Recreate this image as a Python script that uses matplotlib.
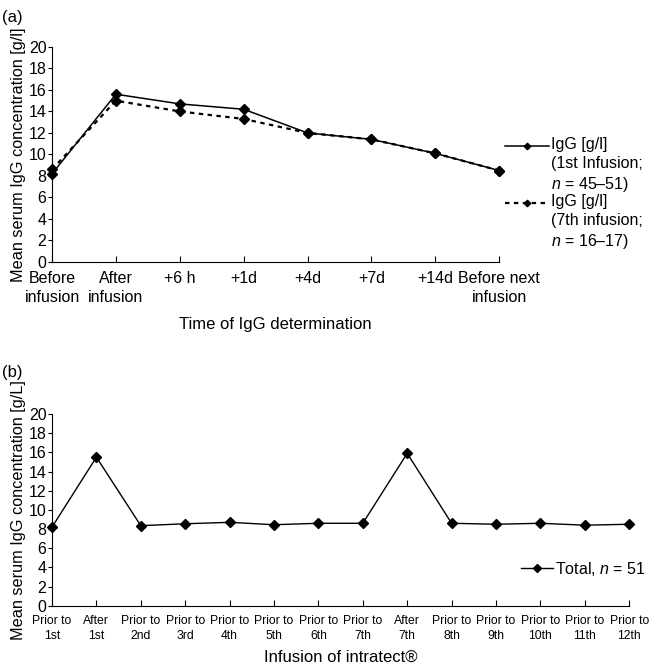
#!/usr/bin/env python

import matplotlib
matplotlib.use("Agg")
import matplotlib.pyplot as plt
from matplotlib.legend_handler import HandlerLine2D

plt.rcParams["font.family"] = ["Liberation Sans", "DejaVu Sans"]
plt.rcParams["mathtext.fontset"] = "custom"
plt.rcParams["mathtext.it"] = "Liberation Sans:italic"
plt.rcParams["mathtext.rm"] = "Liberation Sans"

# panel (a)
times = ["Before\ninfusion", "After\ninfusion", "+6 h", "+1d", "+4d", "+7d", "+14d",
         "Before next\ninfusion"]
igg_first = [8.2, 15.6, 14.7, 14.2, 12.0, 11.4, 10.1, 8.5]
igg_seventh = [8.6, 15.0, 14.0, 13.3, 12.0, 11.4, 10.1, 8.5]
label_first = "IgG [g/l]\n(1st Infusion;\n$n$ = 45\u201351)"
label_seventh = "IgG [g/l]\n(7th infusion;\n$n$ = 16\u201317)"

# panel (b)
infusions = ["Prior to\n1st", "After\n1st", "Prior to\n2nd", "Prior to\n3rd", "Prior to\n4th",
             "Prior to\n5th", "Prior to\n6th", "Prior to\n7th", "After\n7th", "Prior to\n8th",
             "Prior to\n9th", "Prior to\n10th", "Prior to\n11th", "Prior to\n12th"]
igg_total = [8.2, 15.5, 8.35, 8.55, 8.7, 8.45, 8.6, 8.6, 15.9, 8.6, 8.5, 8.6, 8.4, 8.5]
label_total = "Total, $n$ = 51"

yticks = list(range(0, 21, 2))


class TopLineHandler(HandlerLine2D):
    # put the handle next to the first line of a multi-line label
    def create_artists(self, legend, orig_handle, xdescent, ydescent, width, height,
                       fontsize, trans):
        artists = super().create_artists(legend, orig_handle, xdescent, ydescent, width,
                                         height, fontsize, trans)
        for a in artists:
            a.set_ydata(a.get_ydata() + fontsize * 1.25)
        return artists


def style_axes(ax):
    ax.spines["top"].set_visible(False)
    ax.spines["right"].set_visible(False)
    ax.set_ylim(0, 20)
    ax.set_yticks(yticks)
    ax.tick_params(axis="y", direction="out", length=3, labelsize=11.5, pad=1)
    ax.tick_params(axis="x", direction="in", length=4)


fig = plt.figure(figsize=(6.5, 6.7), dpi=100)

ax1 = fig.add_axes([0.08, 0.609, 0.688, 0.321])
x1 = list(range(len(times)))
ax1.plot(x1, igg_first, color="black", lw=1.1, marker="D", ms=5.5, clip_on=False,
         label=label_first)
ax1.plot(x1, igg_seventh, color="black", lw=1.6, ls=(0, (2, 2)), marker="D", ms=5.5,
         clip_on=False, label=label_seventh)
style_axes(ax1)
ax1.set_xlim(0, len(times) - 1)
ax1.set_xticks(x1)
ax1.set_xticklabels(times, fontsize=11.5, linespacing=1.3)
ax1.tick_params(axis="x", pad=6.5)
ax1.set_xlabel("Time of IgG determination", fontsize=12, labelpad=9)
ax1.set_ylabel("Mean serum IgG concentration [g/l]", fontsize=11.7, labelpad=2)
leg1 = ax1.legend(loc="upper left", bbox_to_anchor=(0.777, 0.795),
                  bbox_transform=fig.transFigure, frameon=False, fontsize=11.5,
                  handlelength=2.75, handletextpad=0.15, labelspacing=0.0, borderpad=0,
                  borderaxespad=0, markerscale=0.6,
                  handler_map={matplotlib.lines.Line2D: TopLineHandler()})
for t in leg1.get_texts():
    t.set_linespacing(1.3)
fig.text(0.003, 0.985, "(a)", fontsize=12, ha="left", va="top")

ax2 = fig.add_axes([0.08, 0.096, 0.888, 0.286])
x2 = list(range(len(infusions)))
ax2.plot(x2, igg_total, color="black", lw=1.0, marker="D", ms=5.5, clip_on=False,
         label=label_total)
style_axes(ax2)
ax2.set_xlim(0, len(infusions) - 1)
ax2.set_xticks(x2)
ax2.set_xticklabels(infusions, fontsize=8.7, linespacing=1.25)
ax2.tick_params(axis="x", pad=7)
ax2.set_xlabel("Infusion of intratect\u00ae", fontsize=12, labelpad=6)
ax2.set_ylabel("Mean serum IgG concentration [g/L]", fontsize=11.7, labelpad=2)
ax2.legend(loc="center left", bbox_to_anchor=(0.802, 0.151), bbox_transform=fig.transFigure,
           frameon=False, fontsize=11.5, handlelength=2.0, handletextpad=0.1,
           borderpad=0, borderaxespad=0, markerscale=0.7)
fig.text(0.003, 0.455, "(b)", fontsize=12, ha="left", va="top")

fig.savefig("out.png", dpi=100)
plt.close(fig)
